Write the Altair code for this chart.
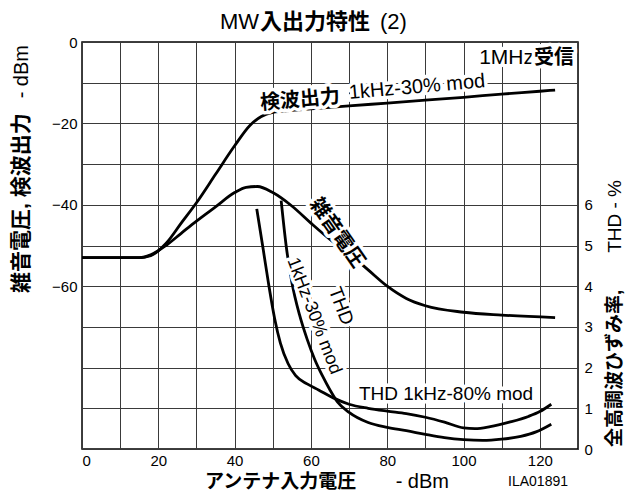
import altair as alt
import pandas as pd

# ---- data (x: antenna input dBm) ----
det_x = [0, 15, 18, 22, 26, 30, 35, 40, 44, 47, 50, 55, 60, 70, 80, 90, 100, 110, 120, 124]
det_y = [-53, -53, -52.5, -49.5, -44.5, -39.5, -32.5, -25.5, -20.5, -18.3, -17.3, -16.8, -16.4, -15.7, -15.0, -14.3, -13.6, -12.8, -12.1, -11.8]

noise_x = [0, 15, 18, 22, 26, 30, 35, 40, 43, 46, 50, 55, 60, 65, 70, 75, 80, 85, 90, 100, 110, 124]
noise_y = [-53, -53, -52.3, -50, -47, -44, -40.5, -37, -35.7, -35.5, -37, -40.3, -44.5, -48.5, -52, -56, -60, -63, -64.8, -66.4, -67.1, -67.7]

thd80_x = [45.8, 47.5, 49, 50.5, 52, 54, 56, 59, 62, 66, 70, 75, 80, 85, 90, 95, 100, 103, 107, 112, 117, 120, 123]
thd80_y = [5.9, 4.9, 4.0, 3.2, 2.6, 2.1, 1.8, 1.6, 1.45, 1.25, 1.1, 1.0, 0.93, 0.87, 0.78, 0.66, 0.52, 0.5, 0.55, 0.66, 0.8, 0.92, 1.1]

thd30_x = [52.2, 53.5, 55, 57, 59, 61, 63, 65, 67, 70, 75, 80, 85, 90, 95, 100, 105, 110, 115, 119, 123]
thd30_y = [6.1, 5.0, 4.1, 3.3, 2.7, 2.2, 1.8, 1.45, 1.15, 0.9, 0.65, 0.53, 0.45, 0.36, 0.28, 0.23, 0.21, 0.24, 0.31, 0.42, 0.61]

x_ticks = list(range(0, 131, 10))
left_ticks = list(range(-100, 1, 10))
right_ticks = [0, 1, 2, 3, 4, 5, 6]

FONT = "Liberation Sans, Arial, Noto Sans CJK JP"
OX, OY = 82, 42  # plot origin on page
W, H = 496, 407

df_left = pd.DataFrame({
    "x": det_x + noise_x,
    "y": det_y + noise_y,
    "s": ["det"] * len(det_x) + ["noise"] * len(noise_x),
})
df_right = pd.DataFrame({
    "x": thd80_x + thd30_x,
    "thd": thd80_y + thd30_y,
    "s": ["thd80"] * len(thd80_x) + ["thd30"] * len(thd30_x),
})

x_enc = alt.X(
    "x:Q",
    scale=alt.Scale(domain=[0, 130], nice=False, zero=False),
    axis=alt.Axis(
        values=x_ticks,
        labelExpr="datum.value % 20 == 0 && datum.value <= 120 ? datum.label : ''",
        grid=True, ticks=False, domain=False, labelPadding=4,
        labelFontSize=15, labelFont=FONT, labelColor="black",
        gridColor="#3a3a3a", gridWidth=1, title=None,
    ),
)

lines_left = alt.Chart(df_left).mark_line(
    color="black", strokeWidth=2.8, interpolate="monotone"
).encode(
    x=x_enc,
    y=alt.Y(
        "y:Q",
        scale=alt.Scale(domain=[-100, 0], nice=False),
        axis=alt.Axis(
            values=left_ticks,
            labelExpr="datum.value % 20 == 0 && datum.value >= -60 ? datum.label : ''",
            grid=True, ticks=False, domain=False, labelPadding=5,
            labelFontSize=15, labelFont=FONT, labelColor="black",
            gridColor="#3a3a3a", gridWidth=1, title=None,
        ),
    ),
    detail="s:N",
)

lines_right = alt.Chart(df_right).mark_line(
    color="black", strokeWidth=2.8, interpolate="monotone"
).encode(
    x=x_enc,
    y=alt.Y(
        "thd:Q",
        scale=alt.Scale(domain=[0, 10], nice=False),
        axis=alt.Axis(
            orient="right", values=right_ticks, grid=False, ticks=False,
            domain=False, labelPadding=6, labelFontSize=15, labelFont=FONT,
            labelColor="black", title=None,
        ),
    ),
    detail="s:N",
)


def label(text, x, y, size=19, weight="normal", angle=0, align="center",
          baseline="middle", halo=False):
    d = pd.DataFrame({"t": [text]})
    props = dict(font=FONT, fontSize=size, fontWeight=weight, angle=angle,
                 align=align, baseline=baseline)
    enc = dict(x=alt.value(x - OX), y=alt.value(y - OY), text="t:N")
    out = []
    if halo:
        out.append(alt.Chart(d).mark_text(
            stroke="white", strokeWidth=7, strokeJoin="round", fill="white", **props
        ).encode(**enc))
    out.append(alt.Chart(d).mark_text(color="black", **props).encode(**enc))
    return out


texts = []
# title (baseline-anchored so it stays inside the page)
texts += label("MW", 259, 29, size=22, align="right", baseline="alphabetic")
texts += label("入出力特性", 260, 29, size=22, weight="bold", align="left", baseline="alphabetic")
texts += label("(2)", 380, 29, size=22, align="left", baseline="alphabetic")
# x axis title
texts += label("アンテナ入力電圧", 205, 481.5, size=19, weight="bold", align="left")
texts += label(" - dBm", 449, 481.5, size=20, align="right")
texts += label("ILA01891", 568, 482, size=14, align="right")
# left axis title
texts += label("雑音電圧, 検波出力", 22, 293, size=21, weight="bold", angle=270, align="left")
texts += label("- dBm", 22, 45, size=20, angle=270, align="right")
# right axis title
texts += label("全高調波ひずみ率,", 615, 447, size=19, weight="bold", angle=270, align="left")
texts += label("THD - %", 615, 180, size=19, angle=270, align="right")
# annotations
texts += label("1MHz", 534, 58, size=21, align="right", halo=True)
texts += label("受信", 574, 58, size=20, weight="bold", align="right", halo=True)
texts += label("検波出力", 300, 100, size=20, weight="bold", angle=355, halo=True)
texts += label("1kHz-30% mod", 417, 87, size=20, angle=355, halo=True)
texts += label("雑音電圧", 337, 233, size=20, weight="bold", angle=55, halo=True)
texts += label("THD", 341, 306, size=19, angle=69, halo=True)
texts += label("1kHz-30% mod", 314, 316, size=18, angle=69, halo=True)
texts += label("THD 1kHz-80% mod", 446, 394, size=19, halo=True)

chart = alt.layer(lines_left, lines_right, *texts).resolve_scale(
    y="independent"
).properties(
    width=W, height=H,
    autosize=alt.AutoSizeParams(type="none"),
    padding={"left": 74, "top": 34, "right": 634 - 16 - 74 - W, "bottom": 42},
).configure_view(stroke="black", strokeWidth=1.5)

chart.save("out.html", embed_options={"renderer": "svg", "actions": False})
